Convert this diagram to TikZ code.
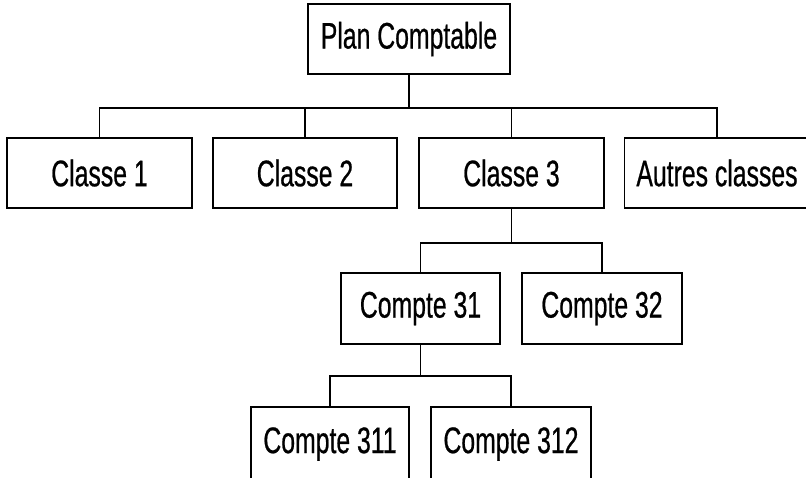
\documentclass[tikz,border=0pt]{standalone}
\usepackage{fontspec}
\setmainfont{Liberation Sans}[FakeStretch=0.67, FakeBold=0.6]
\usetikzlibrary{positioning,calc}

\begin{document}
\begin{tikzpicture}[
  x=1pt, y=-1pt,
  lbl/.style={font=\fontsize{37pt}{42pt}\selectfont},
  box/.style={draw, line width=1.8pt, minimum height=70pt, inner sep=0pt, lbl},
  link/.style={line width=1.8pt}
]
\clip (0,0) rectangle (806,477);

% Root node
\node[box, minimum width=202pt] (plan) at (409,39) {Plan Comptable};

% Classes
\node[box, minimum width=185pt] (cl1) at (99.5,173) {Classe 1};
\node[box, minimum width=184pt] (cl2) at (305,173) {Classe 2};
\node[box, minimum width=185pt] (cl3) at (511.5,173) {Classe 3};
\node[box, minimum width=185pt] (autres) at (717,173) {Autres classes};

% Comptes under Classe 3
\node[box, minimum width=159pt, minimum height=71pt] (cpt31) at (420.5,308.5) {Compte 31};
\node[box, minimum width=160pt, minimum height=71pt] (cpt32) at (602,308.5) {Compte 32};

% Sub-comptes under Compte 31
\node[box, minimum width=158pt, minimum height=74pt] (cpt311) at (330,444) {Compte 311};
\node[box, minimum width=160pt, minimum height=74pt] (cpt312) at (511,444) {Compte 312};

% Bus lines
\coordinate (bus1) at ($(plan.south)+(0,33)$);
\coordinate (bus2) at ($(cl3.south)+(0,34)$);
\coordinate (bus3) at ($(cpt31.south)+(0,31)$);

% Root to classes
\draw[link] (plan.south) -- (bus1);
\draw[link] (cl1.north) |- (bus1) -| (autres.north);
\draw[link] (cl2.north) -- (cl2.north |- bus1);
\draw[link] (cl3.north) -- (cl3.north |- bus1);

% Classe 3 to comptes
\draw[link] (cl3.south) -- (bus2);
\draw[link] (cpt31.north) |- (bus2) -| (cpt32.north);

% Compte 31 to sub-comptes
\draw[link] (cpt31.south) -- (bus3);
\draw[link] (cpt311.north) |- (bus3) -| (cpt312.north);

\end{tikzpicture}
\end{document}
